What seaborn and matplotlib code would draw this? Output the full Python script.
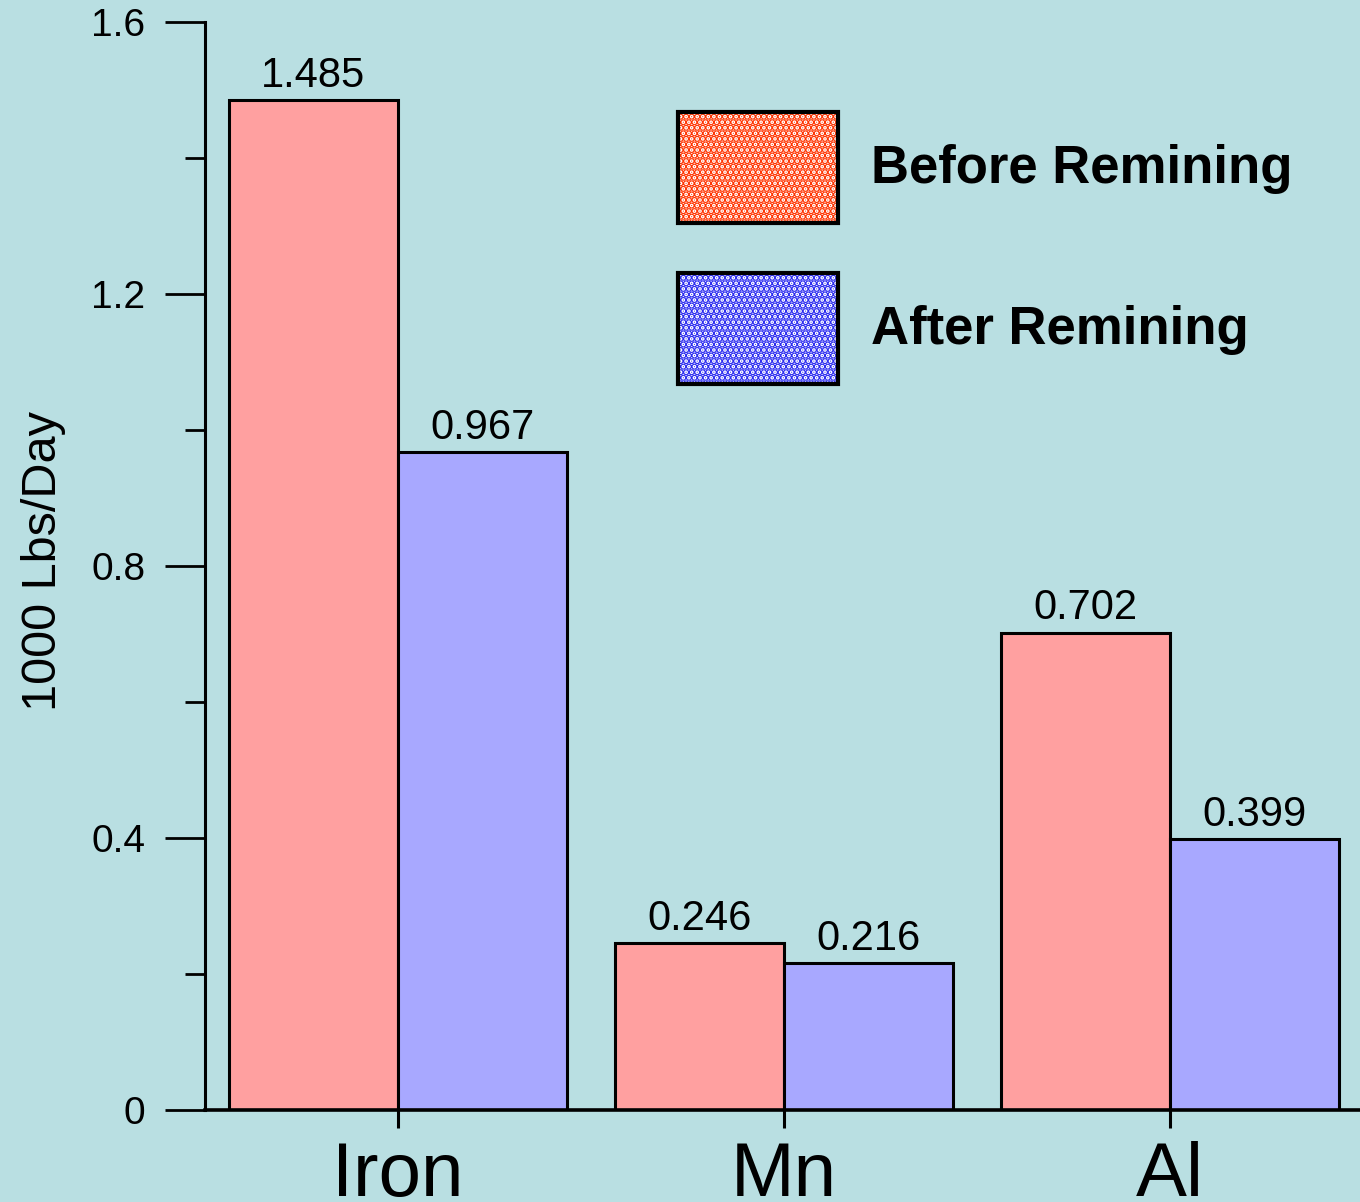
# ------------------------------
# Remining loads: before vs after
# ------------------------------
import pandas as pd
import matplotlib.pyplot as plt
import seaborn as sns
from matplotlib.patches import Rectangle
from matplotlib.legend_handler import HandlerTuple

# ------------------------------
# DATA
# ------------------------------
metals = ["Iron", "Mn", "Al"]
periods = ["Before Remining", "After Remining"]
before_values = [1.485, 0.246, 0.702]
after_values = [0.967, 0.216, 0.399]

y_major = [0, 0.4, 0.8, 1.2, 1.6]
y_major_labels = ["0", "0.4", "0.8", "1.2", "1.6"]
y_minor = [0.2, 0.6, 1.0, 1.4]

df = pd.DataFrame({
    "metal": metals * 2,
    "period": [periods[0]] * 3 + [periods[1]] * 3,
    "value": before_values + after_values,
})

# ------------------------------
# STYLE
# ------------------------------
bg = "#B9DFE2"
bar_colors = ["#FFA0A0", "#A8A8FF"]
legend_dots = ["#FF3300", "#2B2BF0"]

sns.set_style("ticks")
plt.rcParams["font.family"] = ["Liberation Sans", "DejaVu Sans"]
plt.rcParams["hatch.linewidth"] = 3.5
for key in ["text.color", "axes.labelcolor", "xtick.color", "ytick.color", "axes.edgecolor"]:
    plt.rcParams[key] = "black"

fig = plt.figure(figsize=(13.6, 12.02), dpi=100, facecolor=bg)
ax = fig.add_axes([205 / 1360, 1 - 1110 / 1202, 1155 / 1360, 1088 / 1202])
ax.set_facecolor(bg)

# ------------------------------
# BARS
# ------------------------------
sns.barplot(
    data=df, x="metal", y="value", hue="period",
    order=metals, hue_order=periods,
    palette=bar_colors, saturation=1,
    width=0.876, gap=0,
    edgecolor="black", linewidth=2.2,
    legend=False, ax=ax,
)

for container in ax.containers:
    ax.bar_label(container, fmt="%.3f", padding=3, fontsize=30)

# ------------------------------
# AXES
# ------------------------------
ax.set_xlim(-0.5, 2.492)
ax.set_ylim(0, 1.6)

ax.set_yticks(y_major)
ax.set_yticklabels(y_major_labels)
ax.set_yticks(y_minor, minor=True)
ax.tick_params(axis="y", which="major", length=28.8, width=2, pad=14, labelsize=28)
ax.tick_params(axis="y", which="minor", length=14.4, width=2)
ax.tick_params(axis="x", which="major", length=13, width=2.2, pad=9, labelsize=55)

ax.set_xlabel("")
ax.set_ylabel("1000 Lbs/Day", fontsize=35)
ax.yaxis.set_label_coords(-0.12, 0.505)

sns.despine(ax=ax)
ax.spines["left"].set_linewidth(2.2)
ax.spines["bottom"].set_linewidth(2.6)

# ------------------------------
# LEGEND (dotted swatches)
# ------------------------------
handles = []
for dot in legend_dots:
    dotted = Rectangle((0, 0), 1, 1, facecolor="white", edgecolor=dot,
                       hatch="...", linewidth=0)
    border = Rectangle((0, 0), 1, 1, fill=False, edgecolor="black", linewidth=3)
    handles.append((dotted, border))

ax.legend(
    handles, periods,
    handler_map={tuple: HandlerTuple(ndivide=1, pad=0)},
    loc="upper left", bbox_to_anchor=(678 / 1360, 1 - 112 / 1202),
    bbox_transform=fig.transFigure,
    frameon=False, borderpad=0, borderaxespad=0,
    handlelength=3.03, handleheight=2.86,
    handletextpad=0.63, labelspacing=0.94,
    prop={"size": 38, "weight": "bold"},
)

fig.savefig("out.png", dpi=100, facecolor=bg)
